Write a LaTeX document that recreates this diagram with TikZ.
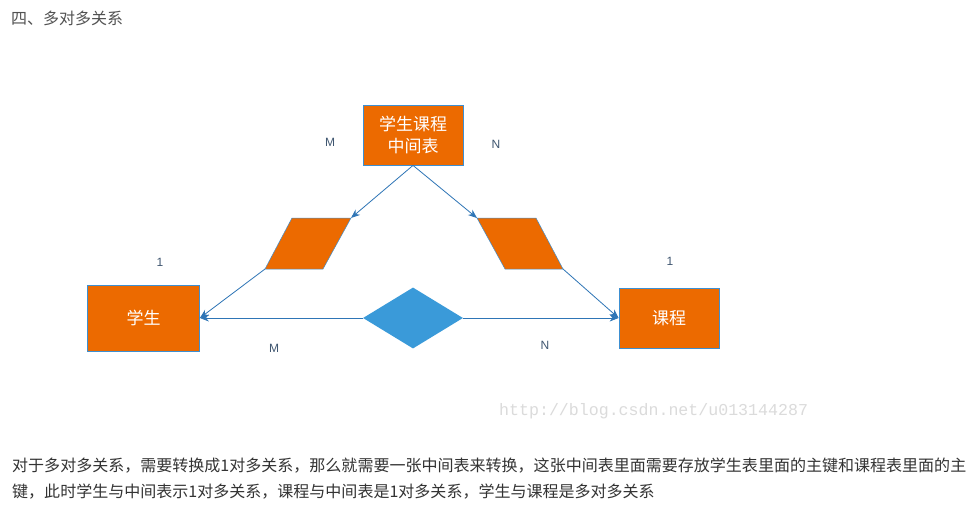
\documentclass[tikz,border=0pt]{standalone}
\usepackage{fontspec}
\setmainfont{Liberation Sans}
\newfontfamily\cjk{Noto Sans CJK SC}
\newfontfamily\wmfont{Liberation Mono}
\usetikzlibrary{arrows.meta,shapes.geometric}
\definecolor{org}{RGB}{236,106,0}
\definecolor{bord}{RGB}{61,143,209}
\definecolor{dia}{RGB}{58,154,217}
\definecolor{conn}{RGB}{46,117,182}
\definecolor{lab}{RGB}{63,86,112}
\definecolor{txt}{RGB}{51,51,51}
\tikzset{
  box/.style={draw=bord, line width=0.8pt, fill=org, text=white, inner sep=0pt, align=center, font=\cjk\fontsize{17}{22}\selectfont},
  arr/.style={draw=conn, line width=0.8pt, -{Stealth[length=9pt,width=7pt]}},
  lbl/.style={text=lab, font=\fontsize{12}{14}\selectfont, inner sep=0pt},
  para/.style={fill=org, draw=bord, line width=0.5pt},
  body/.style={text=txt, anchor=west, inner sep=0pt, font=\cjk\fontsize{16.02}{20}\selectfont}
}
\begin{document}
\begin{tikzpicture}[x=1pt,y=-1pt]
\useasboundingbox[fill=white] (0,0) rectangle (976,516);
\node[body, font=\cjk\fontsize{16}{18}\selectfont, text=txt!85] (title) at (11,18) {四、多对多关系};

\node[box, minimum width=100, minimum height=60] (mid) at (413,135) {学生课程\\中间表};
\node[box, minimum width=112, minimum height=66] (xs) at (143.5,318) {学生};
\node[box, minimum width=100, minimum height=60] (kc) at (669,318) {课程};
\node[diamond, fill=dia, minimum width=100, minimum height=61, inner sep=0pt] (dm) at (413,318) {};

% parallelograms
\coordinate (ltl) at (292,218); \coordinate (ltr) at (351,218);
\coordinate (lbr) at (323,269); \coordinate (lbl) at (265,269);
\coordinate (rtl) at (477,218); \coordinate (rtr) at (536,218);
\coordinate (rbr) at (563,269); \coordinate (rbl) at (505,269);
\path[para] (ltl) -- (ltr) -- (lbr) -- (lbl) -- cycle;
\path[para] (rtl) -- (rtr) -- (rbr) -- (rbl) -- cycle;

\draw[arr] (mid.south) -- (ltr);
\draw[arr] (mid.south) -- (rtl);
\draw[arr] (lbl) -- (xs.east);
\draw[arr] (rbr) -- (kc.west);
\draw[arr] (dm.west) -- (xs.east);
\draw[arr] (dm.east) -- (kc.west);

\node[lbl] (m1) at (330,142) {M};
\node[lbl] (n1) at (496,144) {N};
\node[lbl] (o1) at (160,262) {1};
\node[lbl] (o2) at (670,261) {1};
\node[lbl] (m2) at (274,348) {M};
\node[lbl] (n2) at (545,345) {N};

\node[anchor=west, inner sep=0pt, text=black!14, font=\wmfont\fontsize{16.6}{18}\selectfont] (wm) at (499,411) {http://blog.csdn.net/u013144287};

\node[body] (l1) at (12,466) {对于多对多关系，需要转换成1对多关系，那么就需要一张中间表来转换，这张中间表里面需要存放学生表里面的主键和课程表里面的主};
\node[body] (l2) at (12,492) {键，此时学生与中间表示1对多关系，课程与中间表是1对多关系，学生与课程是多对多关系};
\end{tikzpicture}
\end{document}
